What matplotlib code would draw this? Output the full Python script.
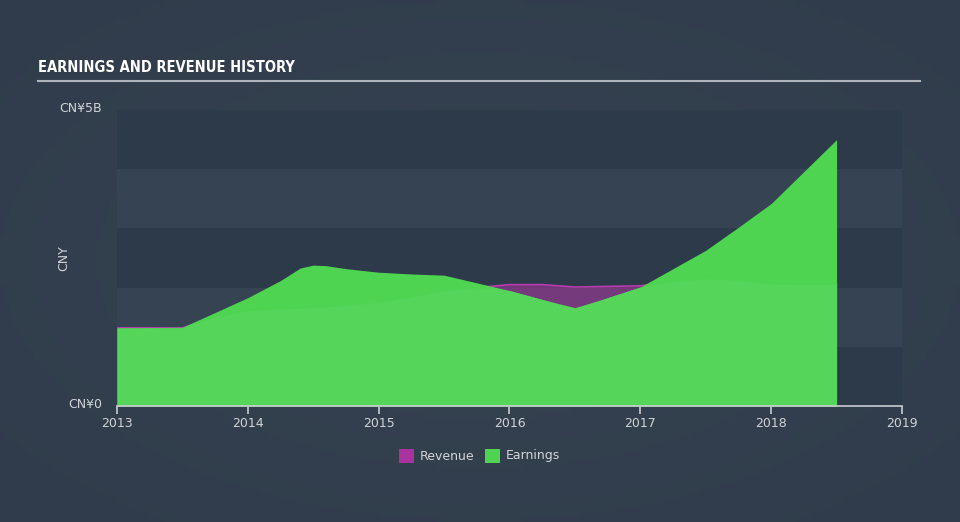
import numpy as np
import matplotlib
matplotlib.use("Agg")
import matplotlib.pyplot as plt
from matplotlib.patches import Rectangle
from matplotlib.lines import Line2D
from matplotlib.colors import LinearSegmentedColormap

# data (values in CNY billions)
rev_x = [2013.0, 2013.5, 2013.75, 2014.0, 2014.25, 2014.5, 2014.75, 2015.0, 2015.25,
         2015.5, 2015.75, 2016.0, 2016.25, 2016.5, 2016.75, 2017.0, 2017.25, 2017.5,
         2017.75, 2018.0, 2018.25, 2018.5]
revenue = [1.32, 1.32, 1.50, 1.61, 1.64, 1.66, 1.70, 1.75, 1.84,
           1.95, 2.00, 2.05, 2.05, 2.01, 2.02, 2.03, 2.10, 2.15,
           2.12, 2.06, 2.05, 2.05]
earn_x = [2013.0, 2013.5, 2013.6, 2013.75, 2014.0, 2014.25, 2014.4, 2014.5, 2014.6, 2014.75,
          2015.0, 2015.25, 2015.5, 2015.75, 2016.0, 2016.25, 2016.4, 2016.5, 2016.6,
          2016.75, 2017.0, 2017.25, 2017.5, 2017.75, 2018.0, 2018.25, 2018.5]
earnings = [1.32, 1.33, 1.43, 1.58, 1.83, 2.12, 2.33, 2.38, 2.37, 2.32,
            2.26, 2.23, 2.21, 2.08, 1.95, 1.80, 1.69, 1.66, 1.70,
            1.83, 2.01, 2.32, 2.63, 3.02, 3.42, 3.96, 4.50]
year_ticks = [2013, 2014, 2015, 2016, 2017, 2018, 2019]

bg = "#334050"
purple = "#a8339f"
green = "#4fd452"
text_col = "#d0d4d9"

fig = plt.figure(figsize=(9.6, 5.22), dpi=100, facecolor=bg)

# soft radial background
bgax = fig.add_axes([0, 0, 1, 1], zorder=-10)
gx, gy = np.meshgrid(np.linspace(-1, 1, 200), np.linspace(-1, 1, 110))
r = np.clip(np.sqrt(gx ** 2 + gy ** 2) / 1.4, 0, 1)
cmap = LinearSegmentedColormap.from_list("bg", ["#364351", "#303c4b"])
bgax.imshow(r, cmap=cmap, aspect="auto", extent=[0, 1, 0, 1])
bgax.axis("off")

ax = fig.add_axes([117 / 960, 1 - 406 / 522, 785 / 960, 296 / 522])
ax.set_facecolor("none")
ax.set_xlim(2013, 2019)
ax.set_ylim(0, 5)

# alternating bands
for i in range(5):
    col = "#2d3a4a" if i % 2 == 0 else "#354352"
    ax.add_patch(Rectangle((2013, 4 - i), 6, 1, facecolor=col, edgecolor="none", zorder=0))

# revenue (purple) then earnings (green) on top
ax.fill_between(rev_x, 0, revenue, color=purple, alpha=0.55, lw=0, zorder=1)
ax.plot(rev_x, revenue, color="#b93bb0", lw=1.2, zorder=1)
ax.fill_between(earn_x, 0, earnings, color=green, lw=0, zorder=2)
low = np.minimum(revenue, np.interp(rev_x, earn_x, earnings))
ax.fill_between(rev_x, 0, low, color="#55d55a", lw=0, zorder=3)

for s in ["top", "right", "left"]:
    ax.spines[s].set_visible(False)
ax.spines["bottom"].set_color("#c8ccd2")
ax.spines["bottom"].set_linewidth(1.2)
ax.spines["bottom"].set_zorder(5)
ax.set_xticks(year_ticks)
ax.set_xticklabels([str(y) for y in year_ticks])
ax.tick_params(axis="x", colors="#c8ccd2", labelcolor=text_col, labelsize=9,
               length=6, width=1.2, pad=2)
ax.set_yticks([])

# y labels
fig.text(102 / 960, 1 - 108 / 522, "CN¥5B", color=text_col, fontsize=9,
         ha="right", va="center")
fig.text(102 / 960, 1 - 404 / 522, "CN¥0", color=text_col, fontsize=9,
         ha="right", va="center")
fig.text(64 / 960, 1 - 258 / 522, "CNY", color=text_col, fontsize=9,
         ha="center", va="center", rotation=90)

# title and underline
fig.text(38 / 960, 1 - 68 / 522, "EARNINGS AND REVENUE HISTORY", color="white",
         fontsize=10.5, fontweight="bold", family="DejaVu Sans", fontstretch="condensed",
         ha="left", va="center")
fig.add_artist(Line2D([38 / 960, 920 / 960], [1 - 81 / 522, 1 - 81 / 522],
                      color="#aeb4bb", lw=1.5))

# legend
leg_y = 1 - 456 / 522
fig.add_artist(Rectangle((399 / 960, leg_y - 7 / 522), 15 / 960, 14 / 522,
                         facecolor=purple, edgecolor="none"))
fig.text(420 / 960, leg_y, "Revenue", color=text_col, fontsize=9, va="center")
fig.add_artist(Rectangle((485 / 960, leg_y - 7 / 522), 15 / 960, 14 / 522,
                         facecolor=green, edgecolor="none"))
fig.text(506 / 960, leg_y, "Earnings", color=text_col, fontsize=9, va="center")

fig.savefig("out.png", dpi=100, facecolor=bg)
